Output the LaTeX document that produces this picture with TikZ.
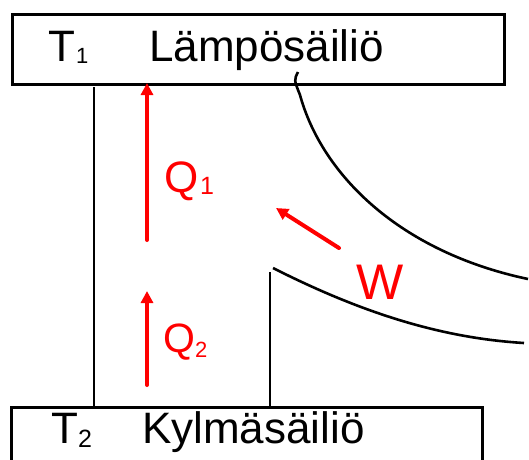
\documentclass[tikz,border=0pt]{standalone}
\usepackage{fontspec}
\setmainfont{Liberation Sans}
\usetikzlibrary{arrows.meta}
\tikzset{
  box/.style={draw=black,line width=3pt},
  wall/.style={draw=black,line width=2.6pt},
  heat/.style={draw=red,line width=4pt,line cap=round,-{Triangle[width=12pt,length=12pt]}},
  big/.style={inner sep=0pt,anchor=base west,font=\fontsize{44}{44}\selectfont},
  sub/.style={inner sep=0pt,anchor=base west,font=\fontsize{25}{25}\selectfont},
}
\begin{document}
\begin{tikzpicture}[x=1pt,y=-1pt]
\useasboundingbox (0,0) rectangle (529,459);
\clip (0,0) rectangle (529,459);
% reservoirs
\node[box,minimum width=492pt,minimum height=70pt,anchor=north west,inner sep=0pt] (hot) at (11,13) {};
\coordinate (cbl) at (11,470);
\coordinate (cbr) at (482,470);
\coordinate (ctl) at (11,407);
\coordinate (ctr) at (482,407);
\draw[box] (cbl) -- (ctl) -- (ctr) -- (cbr);
% texts
\node[big] (T1) at (48,61) {T};
\node[sub,font=\fontsize{22}{22}\selectfont] (T1s) at (76,63) {1};
\node[big] (hotname) at (149,61) {Lämpösäiliö};
\node[big] (T2) at (51,443) {T};
\node[sub] (T2s) at (78,447) {2};
\node[big] (coldname) at (142,443) {Kylmäsäiliö};
% walls
\coordinate (lw1) at (94,87);
\coordinate (lw2) at (94,407);
\coordinate (rw1) at (270,272);
\coordinate (rw2) at (270,407);
\draw[wall] (lw1) -- (lw2);
\draw[wall] (rw1) -- (rw2);
% curves
\coordinate (u0) at (298,72);
\coordinate (u1) at (300,95);
\coordinate (u2) at (528,279);
\draw[wall] (u0) .. controls (294,80) .. (u1) .. controls (322,175) and (400,252) .. (u2);
\coordinate (l0) at (273,268);
\coordinate (l1) at (524,343);
\draw[wall] (l0) .. controls (360,312) and (440,338) .. (l1);
% heat arrows
\coordinate (q1a) at (147,240);
\coordinate (q1b) at (147,83);
\draw[heat] (q1a) -- (q1b);
\coordinate (q2a) at (147,385);
\coordinate (q2b) at (147,291);
\draw[heat] (q2a) -- (q2b);
\coordinate (wa) at (339,248);
\coordinate (wb) at (276,208);
\draw[heat] (wa) -- (wb);
\node[big,text=red] (Q1) at (164,192) {Q};
\node[sub,text=red] (Q1s) at (200,194) {1};
\node[big,text=red,font=\fontsize{41}{41}\selectfont] (Q2) at (163,352) {Q};
\node[sub,text=red,font=\fontsize{22}{22}\selectfont] (Q2s) at (195,357) {2};
\node[big,text=red,font=\fontsize{50}{50}\selectfont] (W) at (356,299) {W};
\end{tikzpicture}
\end{document}
